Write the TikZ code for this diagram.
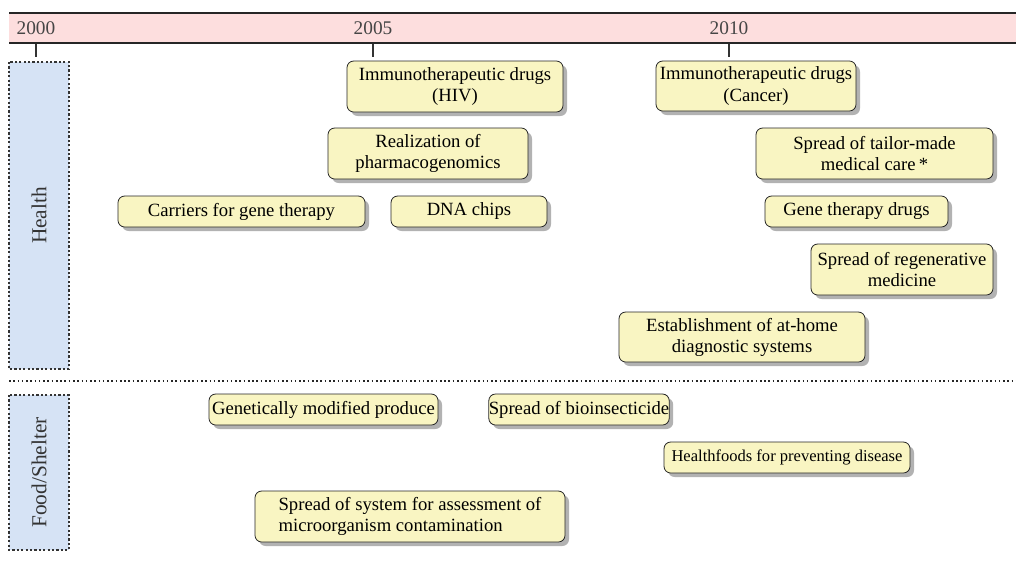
\documentclass[tikz,border=0pt]{standalone}
\usepackage{fontspec}
\setmainfont{Liberation Serif}
\usetikzlibrary{shadows}

\definecolor{bandpink}{RGB}{253,222,222}
\definecolor{sideblue}{RGB}{214,227,245}
\definecolor{eventyellow}{RGB}{249,245,194}
\definecolor{yeargray}{RGB}{70,70,70}

\begin{document}
\begin{tikzpicture}[x=0.75pt,y=-0.75pt,
  boxsize/.style 2 args={minimum width=#1*0.75pt, minimum height=#2*0.75pt},
  event/.style={draw=black!85, line width=0.6pt, rounded corners=5pt, fill=eventyellow,
    drop shadow={shadow xshift=3pt, shadow yshift=-3pt, fill=black!30, opacity=1},
    inner sep=0pt, align=center, font=\fontsize{14}{15.8}\selectfont},
  side/.style={draw=black!80, line width=1.7pt, dash pattern=on 1.7pt off 1.6pt,
    fill=sideblue, rotate=90,
    inner sep=0pt, font=\fontsize{16}{18}\selectfont, text=black!80},
  year/.style={font=\fontsize{14.5}{16}\selectfont, text=yeargray},
  tick/.style={line width=1.6pt, black!80}]

\useasboundingbox (0,0) rectangle (1016,562);

% Time band
\fill[bandpink] (9,13) rectangle (1016,43);
\draw[line width=1.6pt, black!85] (9,13) -- (1016,13);
\draw[line width=1.6pt, black!85] (9,43) -- (1016,43);

\node[year] (y2000) at (36,28) {2000};
\node[year] (y2005) at (373,28) {2005};
\node[year] (y2010) at (729,28) {2010};
\draw[tick] (36,44) -- (36,57);
\draw[tick] (373,44) -- (373,57);
\draw[tick] (729,44) -- (729,57);

% Fields
\node[side, boxsize={307}{60}] (health) at (39,215.5) {Health};
\node[side, boxsize={155}{60}] (food) at (39,472.5) {Food/Shelter};
\draw[line width=1.2pt, dotted, black!85] (9,381) -- (1016,381);

% Health
\node[event, boxsize={216}{51}] (immhiv) at (455,86.5) {Immunotherapeutic drugs\\(HIV)};
\node[event, boxsize={200}{50}] (immcan) at (756,86) {Immunotherapeutic drugs\\(Cancer)};
\node[event, boxsize={200}{51}] (pharma) at (428,153.5) {Realization of\\pharmacogenomics};
\node[event, boxsize={237}{51}] (tailor) at (874.5,153.5) {Spread of tailor-made\\medical care\,*};
\node[event, boxsize={247}{31}] (carriers) at (241.5,211.5) {Carriers for gene therapy};
\node[event, boxsize={156}{31}] (dnachips) at (469,211.5) {DNA chips};
\node[event, boxsize={183}{31}] (genedrugs) at (856.5,211.5) {Gene therapy drugs};
\node[event, boxsize={182}{51}] (regen) at (902,269.5) {Spread of regenerative\\medicine};
\node[event, boxsize={246}{50}] (athome) at (742,337) {Establishment of at-home\\diagnostic systems};

% Food/Shelter
\node[event, boxsize={229}{31}] (gmprod) at (323.5,409.5) {Genetically modified produce};
\node[event, boxsize={176}{31}] (bioins) at (579,409.5) {Spread of bioinsecticide};
\node[event, boxsize={246}{31}, font=\fontsize{12.4}{14}\selectfont] (hfoods) at (787,457.5) {Healthfoods for preventing disease};
\node[event, boxsize={310}{51}, align=left] (contam) at (410,516.5) {Spread of system for assessment of\\microorganism contamination};

\end{tikzpicture}
\end{document}
